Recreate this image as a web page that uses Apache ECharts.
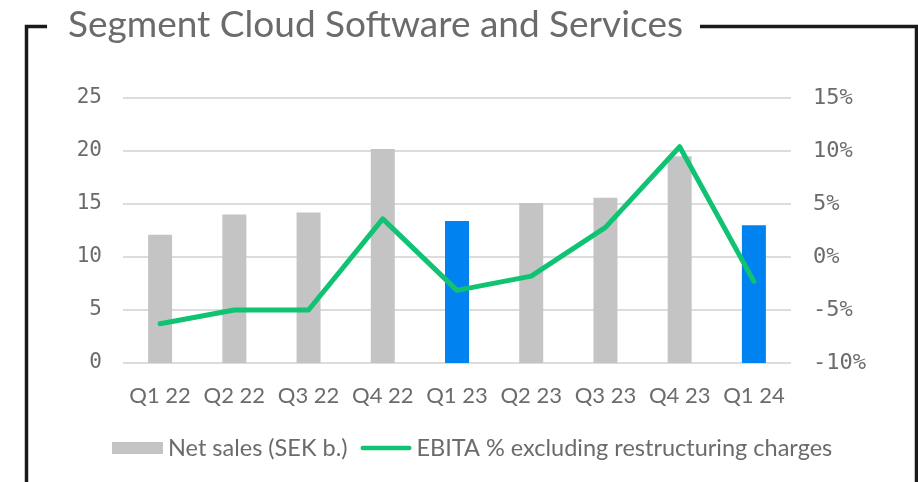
<!DOCTYPE html>
<html>
<head>
<meta charset="utf-8">
<script src="https://cdn.jsdelivr.net/npm/echarts@6/dist/echarts.min.js"></script>
<style>
html,body{margin:0;padding:0;background:#fff;}
#chart{width:918px;height:482px;}
</style>
</head>
<body>
<div id="chart"></div>
<script>
const titleText = 'Segment Cloud Software and Services';
const categories = ['Q1 22','Q2 22','Q3 22','Q4 22','Q1 23','Q2 23','Q3 23','Q4 23','Q1 24'];
const netSales = [12.1, 14.0, 14.2, 20.2, 13.4, 15.1, 15.6, 19.5, 13.0];
const ebitaPct = [-6.3, -5.0, -5.0, 3.6, -3.15, -1.8, 2.8, 10.4, -2.3];
const highlighted = ['Q1 23','Q1 24'];
const seriesNames = ['Net sales (SEK b.)', 'EBITA % excluding restructuring charges'];

const GRAY = '#c4c4c4', BLUE = '#0082f0', GREEN = '#0fc373', TEXT = '#6b6b6b';

const chart = echarts.init(document.getElementById('chart'), null, {renderer:'canvas'});
chart.setOption({
  animation: false,
  backgroundColor: '#fff',
  title: {
    text: titleText,
    left: 63, top: 7,
    backgroundColor: '#fff',
    padding: [0, 5],
    textStyle: {fontFamily: 'Lato', fontSize: 37, fontWeight: 'normal', color: TEXT}
  },
  graphic: [
    {type:'polyline', z: -1, shape:{points:[[26.5,490],[26.5,26.5],[47,26.5]]}, style:{stroke:'#1a1a1a', lineWidth:3.5, fill:null}},
    {type:'polyline', z: -1, shape:{points:[[700,26.5],[916.5,26.5],[916.5,490]]}, style:{stroke:'#1a1a1a', lineWidth:3.5, fill:null}}
  ],
  grid: {left: 123, right: 127, top: 98, bottom: 119},
  legend: {
    bottom: 17, left: 107,
    itemGap: 13, itemWidth: 51, itemHeight: 12,
    symbolKeepAspect: true,
    textStyle: {fontFamily: 'Lato', fontSize: 23.5, color: TEXT},
    data: [
      {name: seriesNames[0], icon: 'rect', itemStyle: {color: GRAY}},
      {name: seriesNames[1], icon: 'path://M2.5,0 H53.5 A2.5,2.5 0 0 1 53.5,5 H2.5 A2.5,2.5 0 0 1 2.5,0 Z', itemStyle: {color: GREEN}, lineStyle: {width: 0}}
    ]
  },
  xAxis: {
    type: 'category', data: categories,
    axisLine: {show: false}, axisTick: {show: false},
    axisLabel: {interval: 0, fontFamily: 'Lato', fontSize: 22, color: TEXT, margin: 22}
  },
  yAxis: [
    {type: 'value', min: 0, max: 25, interval: 5,
     axisLine:{show:false}, axisTick:{show:false},
     splitLine: {lineStyle: {color: '#dcdcdc', width: 2}},
     axisLabel: {fontFamily: 'DejaVu Sans Mono', fontSize: 21, color: TEXT, margin: 21}},
    {type: 'value', min: -10, max: 15, interval: 5,
     axisLine:{show:false}, axisTick:{show:false}, splitLine:{show:false},
     axisLabel: {fontFamily: 'DejaVu Sans Mono', fontSize: 22, color: TEXT, margin: 22, formatter: v => v + '%'}}
  ],
  series: [
    {name: seriesNames[0], type: 'bar', barWidth: 24, yAxisIndex: 0,
     itemStyle: {color: p => highlighted.includes(categories[p.dataIndex]) ? BLUE : GRAY},
     data: netSales},
    {name: seriesNames[1], type: 'line', yAxisIndex: 1, symbol: 'none',
     lineStyle: {color: GREEN, width: 5, cap: 'round', join: 'round'},
     itemStyle: {color: GREEN},
     data: ebitaPct, z: 3}
  ]
});
</script>
</body>
</html>
